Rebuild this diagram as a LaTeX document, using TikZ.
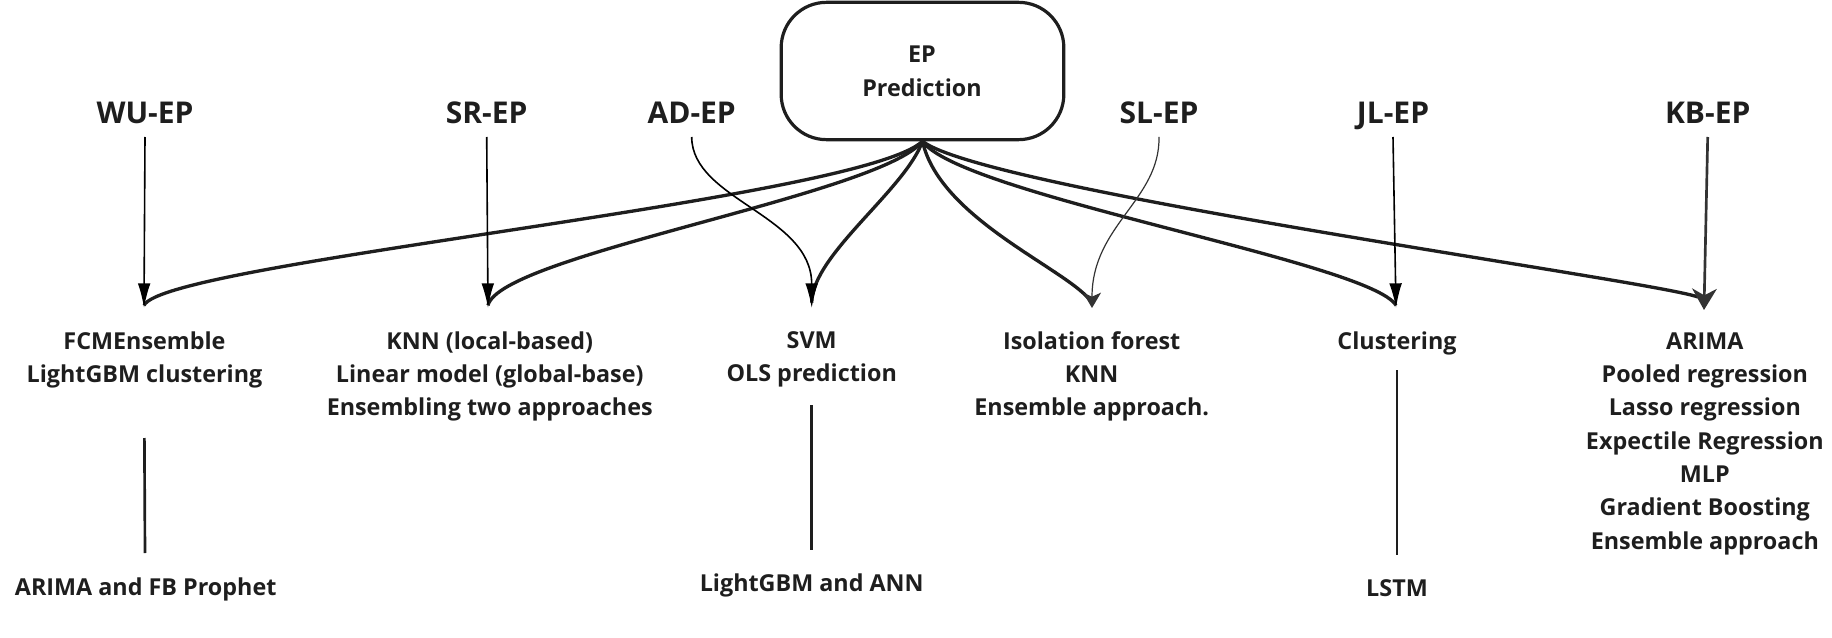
\documentclass[tikz,border=0pt]{standalone}
\usepackage{fontspec}
\setmainfont{Open Sans}
\usetikzlibrary{arrows.meta}
\definecolor{ink}{HTML}{1E1E1E}
\definecolor{grayarr}{HTML}{333333}
\newcommand{\lblfont}{\fontsize{17.5}{25}\selectfont\bfseries}
\newcommand{\headfont}{\fontsize{22.5}{27}\selectfont\bfseries}
\newcommand{\stk}[1]{\begin{tabular}[t]{@{}c@{}}#1\end{tabular}}
\begin{document}
\begin{tikzpicture}[x=0.75pt,y=-0.75pt,
 lbl/.style={font=\lblfont, text=ink, inner sep=0pt, anchor=base},
 head/.style={font=\headfont, text=ink, inner sep=0pt, anchor=base},
 epbox/.style={draw=ink, line width=2.4pt, rounded corners=34pt, minimum width=212pt, minimum height=103pt, inner sep=0pt},
 fan/.style={draw=ink, line width=2.5pt},
 thinarr/.style={draw=black, line width=1.2pt, -{Latex[length=18.5pt,width=9.5pt]}},
 slarr/.style={draw=grayarr, line width=0.9pt, -{Stealth[length=11.5pt,width=13.5pt,inset=3pt]}},
 kbarr/.style={draw=grayarr, line width=2pt, -{Stealth[length=16pt,width=18.5pt,inset=5pt]}},
 sub/.style={draw=ink, line width=2pt},
]
\useasboundingbox (0,0) rectangle (1832,638);
% central box
\node[epbox] (ep) at (922.5,71) {};
\node[lbl] (eptext) at (922,63) {\stk{EP\\Prediction}};
% headings
\node[head] (wu) at (145,124) {WU-EP};
\node[head] (sr) at (486.7,124) {SR-EP};
\node[head] (ad) at (691.7,124) {AD-EP};
\node[head] (sl) at (1159,124) {SL-EP};
\node[head] (jl) at (1393,124) {JL-EP};
\node[head] (kb) at (1707.7,124) {KB-EP};
% arrow tips
\coordinate (wuT) at (144,308);
\coordinate (srT) at (488,308);
\coordinate (svmT) at (811.7,308);
\coordinate (ifT) at (1092,308);
\coordinate (jlT) at (1396,308);
\coordinate (kbT) at (1704,310);
\coordinate (kbE) at (1698,297);
% fan curves
\draw[fan] (ep.south) .. controls (860,200) and (165,262) .. ([yshift=2pt]wuT);
\draw[fan] (ep.south) .. controls (880,195) and (500,255) .. ([yshift=2pt]srT);
\draw[fan] (ep.south) .. controls (905,190) and (812,255) .. ([yshift=4pt]svmT);
\draw[fan] (ep.south) .. controls (940,220) and (1070,270) .. ([yshift=4pt]ifT);
\draw[fan] (ep.south) .. controls (960,195) and (1370,262) .. ([yshift=2pt]jlT);
\draw[fan] (ep.south) .. controls (985,190) and (1650,280) .. (kbE);
% heading arrows
\draw[thinarr] ([yshift=-9.75pt]wu.base) -- (wuT);
\draw[thinarr] ([yshift=-9.75pt]sr.base) -- (srT);
\draw[thinarr] ([yshift=-9.75pt]jl.base) -- (jlT);
\draw[thinarr] ([yshift=-9.75pt]ad.base) .. controls (692,200) and (811.7,215) .. (svmT);
\draw[slarr] ([yshift=-9.75pt]sl.base) .. controls (1160,200) and (1092,225) .. (ifT);
\draw[kbarr] ([yshift=-9.75pt]kb.base) -- (kbT);
% method labels
\node[lbl] (wuL) at (144.5,349) {\stk{FCMEnsemble\\LightGBM clustering}};
\node[lbl] (srL) at (489.7,349) {\stk{KNN (local-based)\\Linear model (global-base)\\Ensembling two approaches}};
\node[lbl] (svmL) at (811.7,348.5) {\stk{SVM\\OLS prediction}};
\node[lbl] (ifL) at (1091.7,349) {\stk{Isolation forest\\KNN\\Ensemble approach.}};
\node[lbl] (jlL) at (1397,349) {Clustering};
\node[lbl] (kbL) at (1704.8,349) {\stk{ARIMA\\Pooled regression\\Lasso regression\\Expectile Regression\\MLP\\Gradient Boosting\\Ensemble approach}};
\node[lbl] (wuS) at (145.7,595) {ARIMA and FB Prophet};
\node[lbl] (svmS) at (811.7,591) {LightGBM and ANN};
\node[lbl] (jlS) at (1397,596) {LSTM};
% lower connectors
\coordinate (wuA) at (144.4,438); \coordinate (wuB) at (145,553);
\coordinate (svmA) at (811.7,405); \coordinate (svmB) at (811.7,550);
\coordinate (jlA) at (1397,370); \coordinate (jlB) at (1397,555);
\draw[sub] (wuA) -- (wuB);
\draw[sub] (svmA) -- (svmB);
\draw[sub] (jlA) -- (jlB);
\end{tikzpicture}
\end{document}
